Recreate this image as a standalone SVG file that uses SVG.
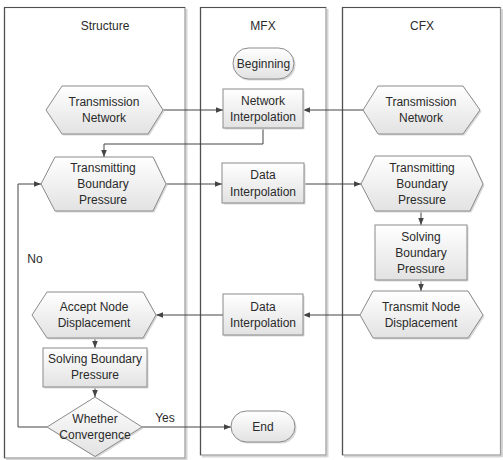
<svg xmlns="http://www.w3.org/2000/svg" width="503" height="460" viewBox="0 0 503 460">
<defs>
<linearGradient id="g" x1="0" y1="0" x2="0" y2="1">
<stop offset="0" stop-color="#ffffff"/>
<stop offset="1" stop-color="#e2e2e2"/>
</linearGradient>
<marker id="ah" viewBox="0 0 10 10" refX="10" refY="5" markerWidth="7" markerHeight="7" orient="auto" markerUnits="userSpaceOnUse">
<path d="M0,1 L10,5 L0,9 z" fill="#444"/>
</marker>
</defs>
<style>
.lane{fill:#fff;stroke:#9a9a9a;stroke-width:1.2}
.lsh{fill:none;stroke:#d6d6d6;stroke-width:2}
.ltl{fill:none;stroke:#505050;stroke-width:1.2}
.nd{fill:url(#g);stroke:#8a8a8a;stroke-width:1}
.sh{fill:#d9d9d9;stroke:none}
.t{font-family:"Liberation Sans",Arial,sans-serif;font-size:12px;fill:#2a2a2a;text-anchor:middle}
.c{fill:none;stroke:#444;stroke-width:1;marker-end:url(#ah)}
</style>
<rect width="503" height="460" fill="#fff"/>
<g id="lanes">
<path class="lsh" d="M186.5,9 V460 M6,459.5 H186"/>
<rect class="lane" x="4.5" y="7.5" width="180.5" height="450.5"/>
<path class="ltl" d="M4.5,458 V7.5 H185"/>
<path class="lsh" d="M327.5,9 V457 M202,456.5 H327"/>
<rect class="lane" x="200.5" y="7.5" width="125.5" height="447.5"/>
<path class="ltl" d="M200.5,455 V7.5 H326"/>
<path class="lsh" d="M502,9 V457 M344,456.5 H502"/>
<rect class="lane" x="342.5" y="7.5" width="158" height="447.5"/>
<path class="ltl" d="M342.5,455 V7.5 H500.5"/>
<text class="t" x="105" y="30">Structure</text>
<text class="t" x="263" y="30">MFX</text>
<text class="t" x="422" y="30">CFX</text>
</g>
<g id="connectors">
<path class="c" d="M163,110 H223"/>
<path class="c" d="M363,110 H303"/>
<path class="c" d="M263,128 V144 H104 V157"/>
<path class="c" d="M166,184 H222"/>
<path class="c" d="M304,184 H361"/>
<path class="c" d="M421,211 V225"/>
<path class="c" d="M421,280 V291"/>
<path class="c" d="M360,315 H303"/>
<path class="c" d="M223,315 H156"/>
<path class="c" d="M95,338 V348"/>
<path class="c" d="M95,387 V397"/>
<path class="c" d="M47,427 H18 V184 H41"/>
<path class="c" d="M142,427 H231"/>
<text class="t" x="35" y="263">No</text>
<text class="t" x="165" y="422">Yes</text>
</g>
<g id="beginning">
<rect class="sh" x="234.5" y="49.5" width="61" height="31" rx="15.5"/>
<rect class="nd" x="233" y="48" width="61" height="31" rx="15.5"/>
<text class="t" x="263.5" y="68">Beginning</text>
</g>
<g id="network-interpolation">
<rect class="sh" x="224.5" y="90.5" width="80" height="39"/>
<rect class="nd" x="223" y="89" width="80" height="39"/>
<text class="t" x="263" y="105">Network</text>
<text class="t" x="263" y="121">Interpolation</text>
</g>
<g id="data-interpolation-1">
<rect class="sh" x="223.5" y="164.5" width="82" height="40"/>
<rect class="nd" x="222" y="163" width="82" height="40"/>
<text class="t" x="263" y="179">Data</text>
<text class="t" x="263" y="196">Interpolation</text>
</g>
<g id="data-interpolation-2">
<rect class="sh" x="224.5" y="295.5" width="80" height="41"/>
<rect class="nd" x="223" y="294" width="80" height="41"/>
<text class="t" x="263" y="311">Data</text>
<text class="t" x="263" y="327">Interpolation</text>
</g>
<g id="end">
<rect class="sh" x="232.5" y="412.5" width="64" height="31" rx="15.5"/>
<rect class="nd" x="231" y="411" width="64" height="31" rx="15.5"/>
<text class="t" x="263" y="431">End</text>
</g>
<g id="structure-transmission-network">
<polygon class="sh" points="47.5,111.5 63.5,87.5 149.5,87.5 164.5,111.5 149.5,135.5 63.5,135.5"/>
<polygon class="nd" points="46,110 62,86 148,86 163,110 148,134 62,134"/>
<text class="t" x="104" y="106">Transmission</text>
<text class="t" x="104" y="122">Network</text>
</g>
<g id="structure-transmitting-boundary-pressure">
<polygon class="sh" points="42.5,185.5 56.5,158.5 154.5,158.5 167.5,185.5 154.5,212.5 56.5,212.5"/>
<polygon class="nd" points="41,184 55,157 153,157 166,184 153,211 55,211"/>
<text class="t" x="103" y="172">Transmitting</text>
<text class="t" x="103" y="188">Boundary</text>
<text class="t" x="103" y="204">Pressure</text>
</g>
<g id="accept-node-displacement">
<polygon class="sh" points="33.5,316.5 48.5,293.5 144.5,293.5 157.5,316.5 144.5,339.5 48.5,339.5"/>
<polygon class="nd" points="32,315 47,292 143,292 156,315 143,338 47,338"/>
<text class="t" x="94" y="311">Accept Node</text>
<text class="t" x="94" y="327">Displacement</text>
</g>
<g id="structure-solving-boundary-pressure">
<rect class="sh" x="44.5" y="349.5" width="104" height="39"/>
<rect class="nd" x="43" y="348" width="104" height="39"/>
<text class="t" x="95" y="363">Solving Boundary</text>
<text class="t" x="95" y="379">Pressure</text>
</g>
<g id="whether-convergence">
<polygon class="sh" points="96.5,398.5 143.5,428.5 96.5,458 48.5,428.5"/>
<polygon class="nd" points="95,397 142,427 95,456.5 47,427"/>
<text class="t" x="95" y="423">Whether</text>
<text class="t" x="95" y="439">Convergence</text>
</g>
<g id="cfx-transmission-network">
<polygon class="sh" points="364.5,111.5 379.5,87.5 464.5,87.5 481.5,111.5 464.5,135.5 379.5,135.5"/>
<polygon class="nd" points="363,110 378,86 463,86 480,110 463,134 378,134"/>
<text class="t" x="421" y="106">Transmission</text>
<text class="t" x="421" y="122">Network</text>
</g>
<g id="cfx-transmitting-boundary-pressure">
<polygon class="sh" points="362.5,185.5 376.5,157.5 471.5,157.5 484.5,185.5 471.5,212.5 376.5,212.5"/>
<polygon class="nd" points="361,184 375,156 470,156 483,184 470,211 375,211"/>
<text class="t" x="422" y="172">Transmitting</text>
<text class="t" x="422" y="188">Boundary</text>
<text class="t" x="422" y="204">Pressure</text>
</g>
<g id="cfx-solving-boundary-pressure">
<rect class="sh" x="376.5" y="226.5" width="92" height="55"/>
<rect class="nd" x="375" y="225" width="92" height="55"/>
<text class="t" x="421" y="241">Solving</text>
<text class="t" x="421" y="257">Boundary</text>
<text class="t" x="421" y="273">Pressure</text>
</g>
<g id="transmit-node-displacement">
<polygon class="sh" points="361.5,316.5 374.5,292.5 469.5,292.5 484.5,316.5 469.5,339.5 374.5,339.5"/>
<polygon class="nd" points="360,315 373,291 468,291 483,315 468,338 373,338"/>
<text class="t" x="421" y="311">Transmit Node</text>
<text class="t" x="421" y="327">Displacement</text>
</g>
</svg>
